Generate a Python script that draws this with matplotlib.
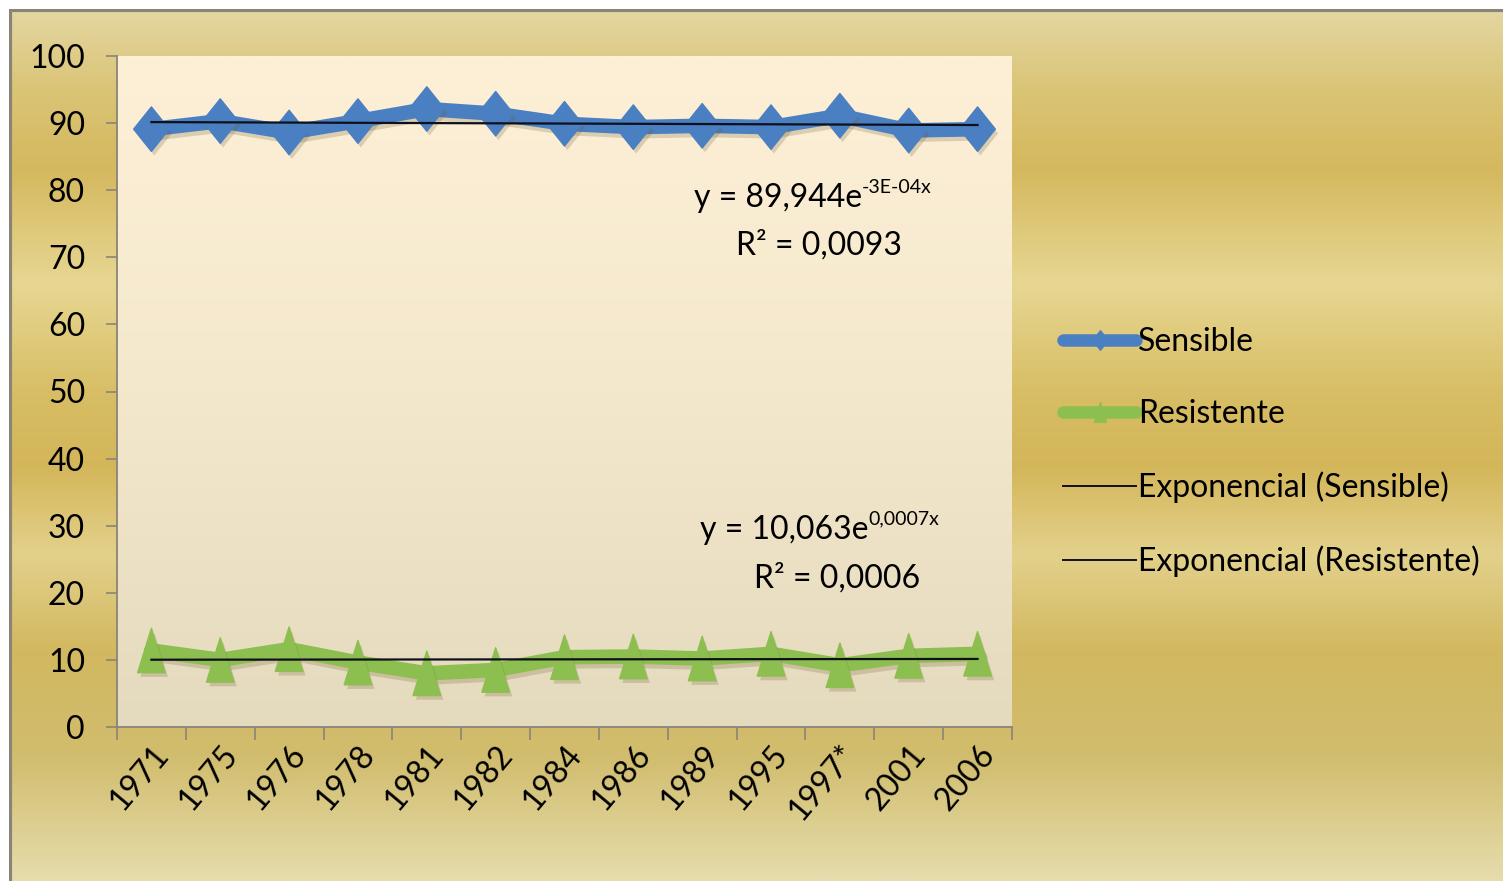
import matplotlib
matplotlib.use("Agg")
import matplotlib.pyplot as plt
import matplotlib.patheffects as pe
from matplotlib.path import Path
from matplotlib.lines import Line2D
from matplotlib.colors import LinearSegmentedColormap
from matplotlib.patches import Rectangle
import numpy as np

plt.rcParams["font.family"] = ["Liberation Sans Narrow", "Lato", "DejaVu Sans"]

# Data (% of isolates)
years = ["1971", "1975", "1976", "1978", "1981", "1982", "1984",
         "1986", "1989", "1995", "1997*", "2001", "2006"]
sensible = [89.1, 90.3, 88.6, 90.3, 92.1, 91.4, 89.9, 89.4, 89.6, 89.4, 91.1, 88.9, 89.1]
resistente = [11.4, 10.0, 11.6, 9.6, 8.0, 8.5, 10.4, 10.5, 10.2, 10.9, 9.2, 10.6, 10.9]

eq_sens = ("y = 89,944e", "-3E-04x", "R² = 0,0093")
eq_res = ("y = 10,063e", "0,0007x", "R² = 0,0006")

blue = "#4A7FC1"
green = "#8CBF50"
trend_col = "#10101c"

W, H = 1503, 881
fig = plt.figure(figsize=(W / 100, H / 100), dpi=100)

# golden gradient background of the chart area
bg = fig.add_axes([0, 0, 1, 1], zorder=-10)
stops = [(0.00, "#E4D8A6"), (0.10, "#DAC476"), (0.19, "#D5B85E"),
         (0.32, "#E7D792"), (0.45, "#D7BD64"), (0.53, "#D4B65A"),
         (0.63, "#E3D18B"), (0.74, "#D2B860"), (0.86, "#D1BD6E"),
         (1.00, "#E6DCAC")]
cmap = LinearSegmentedColormap.from_list("gold", stops)
grad = np.linspace(0, 1, 400).reshape(-1, 1)
bg.imshow(grad, aspect="auto", cmap=cmap, extent=[0, 1, 0, 1], origin="upper")
bg.set_xlim(0, 1)
bg.set_ylim(0, 1)
bg.axis("off")
fig.patches.append(Rectangle((10 / W, -0.01), 1.02, 1 - 10 / H + 0.01,
                             transform=fig.transFigure, fill=False,
                             edgecolor="#8a8478", linewidth=3, zorder=-5))
fig.patches.append(Rectangle((0, 1 - 9 / H), 1, 9 / H, transform=fig.transFigure,
                             facecolor="white", edgecolor="none", zorder=-4))
fig.patches.append(Rectangle((0, 0), 9 / W, 1, transform=fig.transFigure,
                             facecolor="white", edgecolor="none", zorder=-4))

ax = fig.add_axes([117 / W, 1 - 727 / H, 895 / W, 671 / H])
ax.set_facecolor("none")
# cream plot-area gradient
pcmap = LinearSegmentedColormap.from_list("cream", ["#FDF0D7", "#F4E8CC", "#E4DABE"])
ax.imshow(grad, aspect="auto", cmap=pcmap, extent=[-0.5, 12.5, 0, 100],
          origin="upper", zorder=0)

x = np.arange(len(years))
diamond = Path([(0, 1), (0.8, 0), (0, -1), (-0.8, 0), (0, 1)],
               [Path.MOVETO, Path.LINETO, Path.LINETO, Path.LINETO, Path.CLOSEPOLY])
triangle = Path([(0, 1), (0.62, -1), (-0.62, -1), (0, 1)],
                [Path.MOVETO, Path.LINETO, Path.LINETO, Path.CLOSEPOLY])

line_fx = [pe.SimpleLineShadow(offset=(2, -3), alpha=0.22, shadow_color="#6b5a30"), pe.Normal()]
mark_fx = [pe.SimplePatchShadow(offset=(2, -3), alpha=0.22, shadow_rgbFace="#6b5a30"), pe.Normal()]

for vals, col, mk in [(sensible, blue, diamond), (resistente, green, triangle)]:
    ax.plot(x, vals, color=col, lw=10.5, solid_joinstyle="round",
            solid_capstyle="round", zorder=3, path_effects=line_fx)
    ax.plot(x, vals, ls="none", marker=mk, ms=32, color=col, mec=col,
            zorder=4, path_effects=mark_fx)

# exponential trendlines (least squares on log values, x = 1..n)
xs = x + 1
for vals in (sensible, resistente):
    b, loga = np.polyfit(xs, np.log(vals), 1)
    ax.plot(x, np.exp(loga) * np.exp(b * xs), color=trend_col, lw=1.6, zorder=5)

ax.set_xlim(-0.5, 12.5)
ax.set_ylim(0, 100)
ax.set_yticks(np.arange(0, 101, 10))
ax.set_xticks(np.arange(-0.5, 13, 1))
ax.set_xticklabels([])
ax.set_xticks(x, minor=True)
ax.set_xticklabels(years, minor=True, rotation=50, ha="right", va="top",
                   rotation_mode="anchor", fontsize=23)
ax.tick_params(axis="x", which="minor", length=0, pad=9)
ax.tick_params(axis="x", which="major", length=9, width=1.2, color="#8a8478")
ax.tick_params(axis="y", length=8, width=1.2, color="#8a8478", labelsize=23, pad=15)
for s in ("top", "right"):
    ax.spines[s].set_visible(False)
for s in ("left", "bottom"):
    ax.spines[s].set_color("#8a8478")
    ax.spines[s].set_linewidth(1.3)

# trendline equations: base text right-aligned, superscript starting where it ends
for (base, sup, r2), xj, yb, xr, yr in [(eq_sens, 10.32, 78.8, 9.7, 71.8),
                                        (eq_res, 10.41, 29.4, 9.96, 22.2)]:
    ax.text(xj, yb, base, fontsize=23, ha="right", va="center", zorder=6)
    ax.text(xj, yb + 1.6, sup, fontsize=14, ha="left", va="center", zorder=6)
    ax.text(xr, yr, r2, fontsize=23, ha="center", va="center", zorder=6)

handles = [
    Line2D([], [], color=blue, lw=9, marker=diamond, ms=14, solid_capstyle="round"),
    Line2D([], [], color=green, lw=9, marker=triangle, ms=14, solid_capstyle="round"),
    Line2D([], [], color=trend_col, lw=1.4),
    Line2D([], [], color=trend_col, lw=1.4),
]
labels = ["Sensible", "Resistente", "Exponencial (Sensible)", "Exponencial (Resistente)"]
fig.legend(handles, labels, loc="center left", bbox_to_anchor=(1063 / W, 1 - 452 / H),
           frameon=False, fontsize=23, handlelength=2.3, handletextpad=0.05,
           labelspacing=1.32, borderaxespad=0, borderpad=0)

fig.savefig("out.png", dpi=100)
